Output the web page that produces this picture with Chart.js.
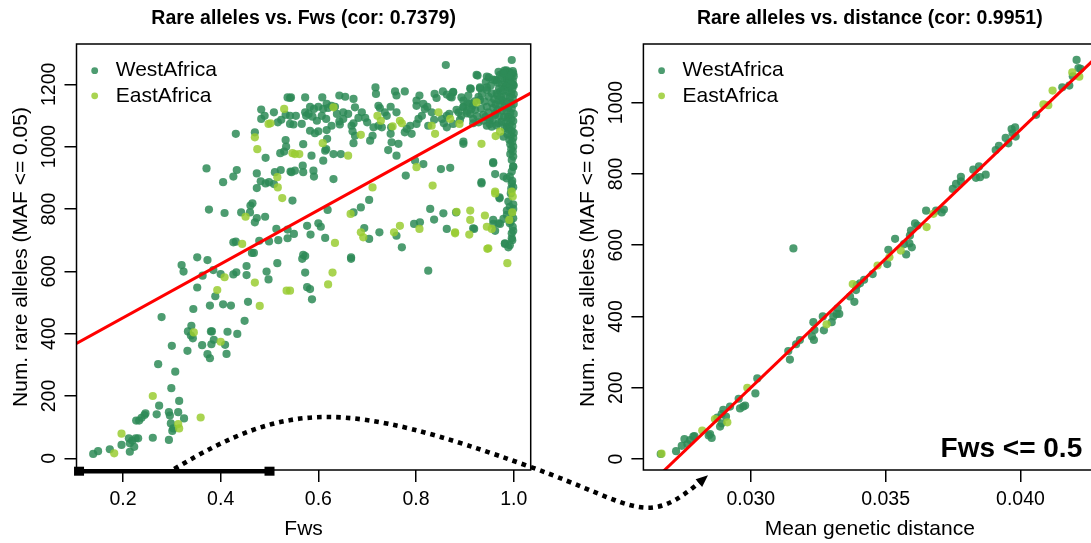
<!DOCTYPE html>
<html><head><meta charset="utf-8">
<script src="https://cdn.jsdelivr.net/npm/chart.js@4.4.1/dist/chart.umd.min.js"></script>
<style>
html,body{margin:0;padding:0;background:#fff;overflow:hidden;width:1091px;height:543px;position:relative;}
#cL{position:absolute;left:0;top:0;}
#cR{position:absolute;left:545px;top:0;}
#overlay{position:absolute;left:0;top:0;pointer-events:none;}
</style></head><body>
<canvas id="cL" width="545" height="543"></canvas>
<canvas id="cR" width="560" height="543"></canvas>
<canvas id="overlay" width="1091" height="543"></canvas>
<script>
const FONT = "'Liberation Sans', Arial, Helvetica, sans-serif";
const westColor = 'rgba(46,139,87,0.85)';
const eastColor = 'rgba(154,205,50,0.85)';
const legendLabels = ['WestAfrica', 'EastAfrica'];

// ---------- Left panel: rare alleles vs Fws ----------
const titleLeft = 'Rare alleles vs. Fws (cor: 0.7379)';
const xTitleLeft = 'Fws';
const yTitle = 'Num. rare alleles (MAF <= 0.05)';
const fwsTicks = [0.2, 0.4, 0.6, 0.8, 1.0];
const rareTicksLeft = [0, 200, 400, 600, 800, 1000, 1200];
const fwsRange = [0.1048, 1.0348];
const rareRangeLeft = [-37.5, 1329.3];
const fitLeft = [278.5, 863.1]; // intercept, slope
const fwsCut = [0.11, 0.5];
const arrowStartFws = 0.305;

const westFwsRare = [
[0.537,1158],[0.542,1156],[0.483,1119],[0.490,1099],[0.483,1089],[0.509,1110],[0.517,1078],[0.524,1086],[0.533,1102],[0.542,1099],[0.549,1071],[0.431,1041],[0.470,1046],[0.492,964],[0.533,1021],[0.534,1000],[0.530,984],[0.522,979],[0.371,930],[0.433,925],[0.426,904],[0.405,886],[0.474,914],[0.511,918],[0.523,925],[0.543,920],[0.482,889],[0.492,882],[0.499,886],[0.509,880],[0.474,867],[0.547,827],[0.376,798],[0.408,787],[0.442,789],[0.461,811],[0.465,818],[0.460,789],[0.474,771],[0.470,757],[0.491,775],[0.514,736],[0.537,734],[0.426,693],[0.431,695],[0.464,659],[0.468,659],[0.479,698],[0.499,696],[0.518,700],[0.537,706],[0.352,645],[0.373,636],
[0.320,620],[0.324,599],[0.363,586],[0.385,604],[0.400,591],[0.426,590],[0.432,597],[0.453,617],[0.453,588],[0.494,599],[0.498,574],[0.516,626],[0.352,548],[0.389,520],[0.344,479],[0.378,490],[0.405,494],[0.421,490],[0.456,502],[0.279,453],[0.449,441],[0.340,425],[0.333,407],[0.339,394],[0.343,385],[0.380,407],[0.382,407],[0.414,406],[0.434,399],[0.386,380],[0.362,363],[0.381,366],[0.409,364],[0.412,335],[0.332,345],[0.373,334],[0.378,321],[0.300,361],[0.272,302],[0.307,278],[0.299,225],[0.315,184],[0.274,169],[0.246,144],[0.244,139],[0.238,130],[0.227,121],[0.233,121],[0.269,141],[0.294,148],[0.313,148],[0.296,137],[0.325,128],[0.303,96],[0.301,88],[0.298,112],[0.212,64],[0.219,57],[0.226,64],[0.231,64],[0.214,48],[0.223,37],[0.197,43],[0.261,66],[0.294,59],[0.214,21],[0.173,29],[0.139,14],[0.149,23],
[0.567,640],[0.573,649],[0.667,640],[0.573,596],[0.577,549],[0.583,543],[0.587,510],[0.825,602],
[0.861,1262],[0.926,1228],[0.949,1222],[0.965,1212],[0.986,1217],[0.912,1185],[0.931,1190],[0.945,1190],[0.717,1190],[0.718,1169],[0.757,1177],[0.760,1164],[0.777,1177],[0.807,1164],[0.801,1148],[0.838,1169],[0.842,1156],[0.855,1177],[0.863,1167],[0.876,1174],[0.873,1158],[0.893,1158],[0.897,1148],[0.907,1164],[0.573,1158],[0.608,1158],[0.643,1164],[0.655,1160],[0.672,1153],[0.627,1131],[0.544,1158],[0.583,1128],[0.591,1121],[0.600,1128],[0.610,1121],[0.617,1137],[0.620,1124],[0.573,1110],[0.580,1105],[0.588,1096],[0.597,1083],[0.607,1099],[0.616,1089],[0.634,1128],[0.638,1105],[0.651,1110],[0.661,1105],[0.651,1089],[0.643,1081],[0.675,1126],[0.689,1110],[0.682,1092],[0.672,1075],[0.723,1131],[0.726,1124],[0.736,1110],[0.748,1128],[0.740,1099],[0.760,1110],[0.554,1099],[0.566,1073],[0.542,1073],[0.583,1051],[0.593,1043],[0.600,1049],[0.617,1053],[0.618,1025],[0.627,1067],[0.644,1071],[0.668,1067],[0.670,1049],[0.675,1035],[0.672,1011],[0.616,992],[0.614,987],[0.569,1008],[0.706,1019],[0.711,1035],[0.730,1062],[0.713,1062],[0.743,989],[0.750,1014],[0.760,971],[0.764,1009],[0.749,1062],[0.748,1041],[0.777,1046],[0.781,1057],[0.791,1041],[0.788,1067],[0.801,1073],[0.805,1089],[0.812,1099],[0.801,1131],[0.815,1137],[0.818,1121],[0.823,1128],[0.832,1110],[0.825,1067],[0.837,1086],[0.853,1089],[0.857,1075],[0.863,1062],[0.876,1073],[0.863,1099],[0.868,1105],[0.887,1110],[0.893,1099],[0.897,1126],[0.904,1115],[0.911,1105],[0.916,1131],[0.917,1089],[0.928,1078],[0.938,1083],[0.945,1067],[0.951,1073],[0.897,1009],[0.723,1067],[0.700,1078],[0.696,1092],[0.575,1099],
[0.568,939],[0.569,918],[0.590,923],[0.591,904],[0.586,971],[0.631,976],[0.646,976],[0.610,955],[0.631,896],[0.552,923],[0.545,918],[0.779,907],[0.798,955],[0.815,944],[0.851,928],[0.870,932],[0.704,829],[0.687,805],[0.672,789],[0.619,797],[0.600,754],[0.605,743],[0.577,746],[0.550,720],[0.569,653],[0.584,718],[0.614,707],[0.694,739],[0.704,704],[0.725,725],[0.667,645],[0.760,714],[0.796,752],[0.808,757],[0.771,677],[0.829,800],[0.837,766],[0.856,786],[0.882,789],[0.863,736],[0.919,736],[0.958,752],[0.962,730],[0.972,752],[0.934,886],[0.958,950],[0.962,912],[0.971,834],[0.982,688],[0.989,677],[0.979,768],[0.986,795],
[0.996,1278],[0.924,1230],[0.945,1225],[0.962,1214],[0.972,1230],[0.982,1235],[0.992,1237],[0.999,1235],[0.911,1187],[0.931,1187],[0.945,1182],[0.955,1171],[0.972,1176],[0.982,1192],[0.996,1203],[0.999,1198],[0.876,1176],[0.870,1160],
[0.883,1118],[0.897,1128],[0.904,1107],[0.911,1139],[0.921,1118],[0.931,1150],[0.938,1102],[0.945,1128],[0.951,1086],[0.955,1064],[0.962,1107],[0.969,1075],[0.979,1032],[0.986,1064],[0.989,1096],[0.975,1150],[0.965,1171],[0.890,1086],[0.917,1075],
[0.897,1016],[0.958,947],[0.979,904],[0.934,882],[0.971,837],[0.958,765],[0.969,754],[0.917,738],
[0.996,957],[0.999,936],[0.992,904],[0.986,898],[0.996,882],[0.989,824],[0.992,807],[0.996,786],[0.986,781],[0.999,770],[0.992,754],[0.998,743],[0.996,722],[0.996,706],[0.992,684],[0.982,690],[0.999,935],[0.997,890],[0.995,865],[0.999,815],[0.994,760],[0.999,730],[0.997,700],
[0.985,1245],[0.990,1240],[0.995,1232],[1.000,1226],[0.987,1222],[0.993,1218],[0.998,1212],[0.981,1210],[0.989,1205],[0.994,1200],[1.000,1196],[0.976,1198],[0.984,1193],[0.991,1188],[0.997,1184],[0.970,1186],[0.979,1180],[0.988,1176],[0.995,1172],[1.000,1168],[0.966,1165],[0.974,1160],[0.983,1162],[0.992,1158],[0.998,1154],[0.960,1152],[0.969,1148],[0.978,1146],[0.986,1143],[0.994,1140],[1.000,1137],[0.955,1140],[0.963,1135],[0.972,1132],[0.981,1128],[0.989,1125],[0.996,1122],[0.958,1124],[0.967,1118],[0.976,1115],[0.985,1112],[0.993,1108],[1.000,1105],[0.962,1102],[0.971,1098],[0.980,1095],[0.988,1092],[0.995,1088],[0.999,1082],[0.975,1080],[0.984,1076],[0.992,1072],[0.997,1066],[0.982,1060],[0.990,1055],[0.996,1050],[1.000,1044],[0.987,1040],[0.994,1034],[0.999,1028],[0.991,1022],[0.997,1015],[0.993,1008],[0.999,1000],[0.995,992],[0.998,984],[0.993,976],[0.999,968],[0.996,920],[0.999,870],[0.994,850],[0.999,800],[0.943,1208],[0.953,1196],[0.957,1215],[0.967,1205],[0.949,1160],[0.940,1145],[0.935,1170],[0.928,1160],[0.920,1145],[0.913,1120],[0.905,1140],[0.948,1110],[0.942,1095],[0.933,1122],[0.925,1098],[0.957,1085],[0.965,1068],[0.975,1220],[0.969,1240],[0.981,1244],[0.998,1242],[0.990,1229],[0.978,1236]
];

const eastFwsRare = [
[0.530,1121],[0.498,1073],[0.502,1075],[0.470,1030],[0.475,992],[0.547,979],[0.516,902],[0.517,869],[0.526,835],[0.451,775],[0.444,688],
[0.408,581],[0.470,564],[0.535,538],[0.393,540],[0.480,489],[0.345,404],[0.400,374],[0.261,200],[0.359,131],[0.313,110],[0.315,96],[0.197,79],[0.182,16],
[0.629,596],[0.620,558],[0.542,538],[0.987,626],
[0.631,1126],[0.721,1099],[0.728,1083],[0.752,1065],[0.767,1083],[0.771,1075],[0.687,1038],[0.609,1011],[0.561,976],[0.552,976],[0.661,971],[0.801,934],[0.834,875],[0.711,869],[0.666,784],[0.634,691],[0.687,725],[0.692,709],[0.755,725],[0.767,746],[0.807,736],[0.880,725],[0.911,795],[0.911,765],[0.909,718],[0.941,779],[0.955,736],[0.962,856],[0.946,672],[0.832,1067],[0.839,1041],[0.846,1110],[0.870,1089],[0.889,1073],[0.924,1142],[0.934,1009],[0.963,1034],
[0.996,856],[0.998,840],[0.962,850],[0.883,791],[0.945,743],[0.948,674],[0.972,1048],[0.880,722],[0.991,765],[0.997,789]
];

// ---------- Right panel: rare alleles vs distance (Fws <= 0.5) ----------
const titleRight = 'Rare alleles vs. distance (cor: 0.9951)';
const xTitleRight = 'Mean genetic distance';
const subsetLabel = 'Fws <= 0.5';
const distTicks = [0.030, 0.035, 0.040];
const rareTicksRight = [0, 200, 400, 600, 800, 1000];
const distRange = [0.026018, 0.042807];
const rareRangeRight = [-30.9, 1164.7];
const fitRight = [-1971.2, 72380];
const arrowEnd = [0.02830, -53];

const westDistRare = [
[0.02666,14],[0.02723,22],[0.02744,37],[0.02754,56],[0.02765,42],[0.02775,53],[0.02787,63],[0.02791,64],[0.02844,66],[0.02855,59],[0.02849,70],[0.02876,116],[0.02886,91],[0.02892,100],[0.02898,138],[0.02923,147],[0.02892,126],[0.02908,119],[0.02955,169],[0.02960,142],[0.02972,147],[0.02979,150],[0.03017,184],[0.03024,226],[0.03139,303],[0.03145,279],[0.03168,322],[0.03182,334],[0.03232,384],[0.03236,362],[0.03227,344],[0.03234,334],[0.03267,400],[0.03271,361],[0.03300,384],[0.03306,400],[0.03318,407],[0.03322,423],[0.03328,407],[0.03368,456],[0.03384,441],[0.03390,474],[0.03393,487],[0.03405,493],[0.03420,503],[0.03452,519],[0.03506,547],[0.03510,587],[0.03535,618],[0.03576,574],[0.03568,603],[0.03588,605],[0.03597,594],[0.03590,627],[0.03594,641],[0.03609,661],[0.03618,655],[0.03650,697],[0.03687,697],[0.03708,692],[0.03716,700],[0.03749,758],[0.03761,772],[0.03779,779],[0.03779,792],[0.03825,812],[0.03835,789],[0.03846,821],[0.03850,791],[0.03871,798],[0.03908,867],[0.03920,879],[0.03945,901],[0.03955,886],[0.03967,926],[0.03980,931],[0.03982,905],[0.03971,914],[0.04058,966],[0.04155,1043],[0.04181,1048],[0.04194,1074],[0.04208,1120],[0.04215,1097],[0.04223,1095],[0.03158,591]
];
const eastDistRare = [
[0.02669,15],[0.02820,80],[0.02867,112],[0.02913,103],[0.02987,200],[0.03281,378],[0.03378,491],[0.03470,543],[0.03514,566],[0.03556,585],[0.03652,651],[0.03677,688],[0.04085,995],[0.04103,993],[0.04119,1034],[0.04192,1085],[0.04218,1073]
];

// ---------- helpers ----------
const toPts = arr => arr.map(p => ({x: p[0], y: p[1]}));

function decorPlugin(cfg) {
  return {
    id: 'decor',
    afterDraw(chart) {
      const ctx = chart.ctx, ca = chart.chartArea, sy = chart.scales.y;
      ctx.save();
      ctx.strokeStyle = '#000'; ctx.lineWidth = 1.5;
      ctx.strokeRect(ca.left, ca.top, ca.right - ca.left, ca.bottom - ca.top);
      ctx.fillStyle = '#000';
      ctx.font = '19.5px ' + FONT;
      ctx.textAlign = 'center'; ctx.textBaseline = 'middle';
      sy.ticks.forEach(t => {
        const py = sy.getPixelForValue(t.value);
        ctx.save(); ctx.translate(ca.left - 26.5, py); ctx.rotate(-Math.PI / 2);
        ctx.fillText(String(t.value), 0, 0); ctx.restore();
      });
      ctx.font = '21px ' + FONT;
      ctx.textBaseline = 'alphabetic';
      ctx.fillText(cfg.xTitle, (ca.left + ca.right) / 2, 534.5);
      ctx.save(); ctx.translate(ca.left - 55.2, (ca.top + ca.bottom) / 2); ctx.rotate(-Math.PI / 2);
      ctx.textBaseline = 'middle'; ctx.fillText(yTitle, 0, 0); ctx.restore();
      ctx.font = 'bold 19.5px ' + FONT;
      ctx.textBaseline = 'alphabetic';
      ctx.fillText(cfg.title, (ca.left + ca.right) / 2, 23.8);
      const cols = [westColor, eastColor];
      const ys = [70.7, 95.8];
      ctx.font = '21px ' + FONT;
      ctx.textAlign = 'left'; ctx.textBaseline = 'middle';
      legendLabels.forEach((lab, i) => {
        ctx.fillStyle = cols[i];
        ctx.beginPath(); ctx.arc(ca.left + 18.2, ys[i], 3.4, 0, Math.PI * 2); ctx.fill();
        ctx.fillStyle = '#000';
        ctx.fillText(lab, ca.left + 39.2, ys[i]);
      });
      if (cfg.extra) cfg.extra(chart, ctx);
      ctx.restore();
    }
  };
}

function makeChart(id, cfg) {
  const [x0, x1] = cfg.xRange;
  const fitPts = [{x: x0, y: cfg.fit[0] + cfg.fit[1] * x0}, {x: x1, y: cfg.fit[0] + cfg.fit[1] * x1}];
  return new Chart(document.getElementById(id), {
    type: 'scatter',
    data: {datasets: [
      {label: 'fit', type: 'line', data: fitPts, borderColor: '#ff0000', borderWidth: 3, pointRadius: 0, showLine: true, fill: false, tension: 0, order: 0},
      {label: legendLabels[1], data: toPts(cfg.east), backgroundColor: eastColor, pointBackgroundColor: eastColor, borderColor: 'rgba(0,0,0,0)', borderWidth: 0, pointBorderWidth: 0, pointRadius: 4.1, order: 1},
      {label: legendLabels[0], data: toPts(cfg.west), backgroundColor: westColor, pointBackgroundColor: westColor, borderColor: 'rgba(0,0,0,0)', borderWidth: 0, pointBorderWidth: 0, pointRadius: 4.1, order: 2}
    ]},
    options: {
      responsive: false, animation: false, events: [],
      layout: {padding: {left: 0, top: 44, right: cfg.padRight, bottom: 0}},
      plugins: {legend: {display: false}, title: {display: false}, tooltip: {enabled: false}},
      scales: {
        x: {
          type: 'linear', min: x0, max: x1,
          afterBuildTicks: s => { s.ticks = cfg.xTicks.map(v => ({value: v})); },
          afterFit: s => { s.height = 73; },
          grid: {drawOnChartArea: false, drawTicks: true, tickLength: 12, color: '#000', lineWidth: 1.5},
          border: {display: false},
          ticks: {color: '#000', font: {family: FONT, size: 19.5}, padding: 6, autoSkip: false, maxRotation: 0, minRotation: 0,
                  callback: v => v.toFixed(cfg.xDigits)}
        },
        y: {
          type: 'linear', min: cfg.yRange[0], max: cfg.yRange[1],
          afterBuildTicks: s => { s.ticks = cfg.yTicks.map(v => ({value: v})); },
          afterFit: s => { s.width = cfg.yWidth; },
          grid: {drawOnChartArea: false, drawTicks: true, tickLength: 12, color: '#000', lineWidth: 1.5},
          border: {display: false},
          ticks: {display: false}
        }
      }
    },
    plugins: [decorPlugin(cfg)]
  });
}

const left = makeChart('cL', {
  title: titleLeft, xTitle: xTitleLeft, xRange: fwsRange, yRange: rareRangeLeft,
  xTicks: fwsTicks, yTicks: rareTicksLeft, xDigits: 1, fit: fitLeft,
  west: westFwsRare, east: eastFwsRare, yWidth: 76.5, padRight: 14.3,
  extra: (chart, ctx) => {
    const sx = chart.scales.x, y = chart.chartArea.bottom + 1.2;
    const a = sx.getPixelForValue(fwsCut[0]), b = sx.getPixelForValue(fwsCut[1]);
    ctx.strokeStyle = '#000'; ctx.lineWidth = 4.5; ctx.lineCap = 'butt';
    ctx.beginPath(); ctx.moveTo(a, y); ctx.lineTo(b, y); ctx.stroke();
    ctx.fillStyle = '#000';
    ctx.fillRect(a - 5, y - 4.5, 10, 9);
    ctx.fillRect(b - 5, y - 4.5, 10, 9);
  }
});

const right = makeChart('cR', {
  title: titleRight, xTitle: xTitleRight, xRange: distRange, yRange: rareRangeRight,
  xTicks: distTicks, yTicks: rareTicksRight, xDigits: 3, fit: fitRight,
  west: westDistRare, east: eastDistRare, yWidth: 98.4, padRight: 8.8,
  extra: (chart, ctx) => {
    ctx.font = 'bold 28px ' + FONT;
    ctx.textAlign = 'right'; ctx.textBaseline = 'alphabetic'; ctx.fillStyle = '#000';
    ctx.fillText(subsetLabel, chart.chartArea.right - 14, 456.7);
  }
});

// ---------- dotted curved arrow linking the two panels ----------
(function drawArrow() {
  const ov = document.getElementById('overlay').getContext('2d');
  const offL = document.getElementById('cL').offsetLeft;
  const offR = document.getElementById('cR').offsetLeft;
  const sx = offL + left.scales.x.getPixelForValue(arrowStartFws);
  const sy = left.chartArea.bottom - 1;
  const ex = offR + right.scales.x.getPixelForValue(arrowEnd[0]);
  const ey = right.scales.y.getPixelForValue(arrowEnd[1]);
  const mx = offL + left.chartArea.right, my = sy - 2;
  const c1 = [sx + 115, sy - 69], c2 = [mx - 186, sy - 69];
  const c3 = [mx + 110, my + 39.6], c4 = [ex - 60, ey + 51.6];
  ov.save();
  ov.strokeStyle = '#000'; ov.lineWidth = 4.6; ov.lineCap = 'butt';
  ov.setLineDash([4.6, 5]);
  ov.beginPath();
  ov.moveTo(sx, sy);
  ov.bezierCurveTo(c1[0], c1[1], c2[0], c2[1], mx, my);
  ov.bezierCurveTo(c3[0], c3[1], c4[0], c4[1], ex, ey);
  ov.stroke();
  ov.setLineDash([]);
  const dx = ex - c4[0], dy = ey - c4[1], L = Math.hypot(dx, dy);
  const ux = dx / L, uy = dy / L, px = -uy, py = ux;
  ov.fillStyle = '#000';
  ov.beginPath();
  ov.moveTo(ex + ux * 4, ey + uy * 4);
  ov.lineTo(ex - ux * 8 + px * 5, ey - uy * 8 + py * 5);
  ov.lineTo(ex - ux * 8 - px * 5, ey - uy * 8 - py * 5);
  ov.closePath(); ov.fill();
  ov.restore();
})();
</script>
</body></html>
